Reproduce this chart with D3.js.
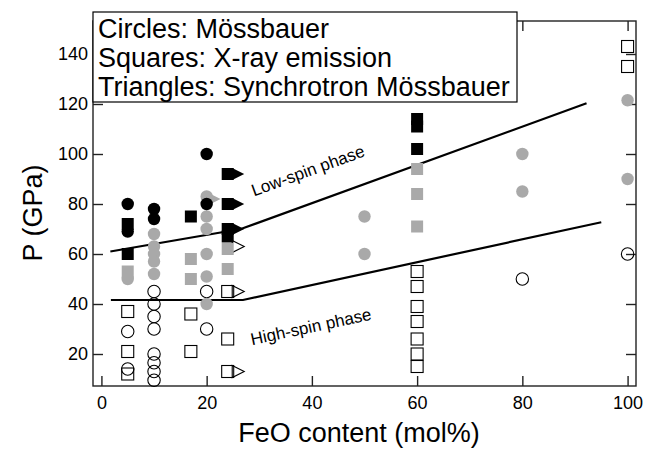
<!DOCTYPE html>
<html><head><meta charset="utf-8">
<script src="https://cdn.jsdelivr.net/npm/d3@7"></script>
<style>
html,body{margin:0;padding:0;background:#fff;}
svg{display:block;font-family:"Liberation Sans",Arial,Helvetica,sans-serif;}
</style></head>
<body>
<svg id="chart" width="648" height="451"></svg>
<script>
// ---- data: [FeO mol%, P GPa] ----
const mossbauerBlack = [[5,80],[5,69],[10,78],[10,74],[20,100],[20,80]];
const mossbauerGray = [[5,50],[10,68],[10,63],[10,60],[10,57],[10,52],[20,83],[20,75],[20,70],[20,60],[20,51],[20,40],[50,75],[50,60],[80,100],[80,85],[100,121.5],[100,90]];
const mossbauerOpen = [[5,29],[5,14],[10,45],[10,40],[10,35],[10,30],[10,20],[10,16.5],[10,13],[10,9.5],[20,45],[20,30],[80,50],[100,60]];
const xesBlack = [[5,72],[5,60],[17,75],[24,92],[24,80],[24,70],[24,67],[60,114],[60,111],[60,102]];
const xesGray = [[5,53],[17,58],[17,50],[24,62],[24,54],[60,94],[60,84],[60,71]];
const xesOpen = [[5,37],[5,21],[5,12],[17,36],[17,21],[24,45],[24,26],[24,13],[60,53],[60,47],[60,39],[60,33],[60,26],[60,20],[60,15],[100,143],[100,135]];
const smsBlack = [[26,92],[26,80],[26,70]];
const smsGray = [[21.5,82]];
const smsOpen = [[26,63],[26,45],[26,13]];
const lowSpinLine = [[1.7,61],[26.5,70],[92.2,120.3]];
const highSpinLine = [[1.8,41.6],[26.9,41.6],[95,72.7]];
const xTicks = [0,20,40,60,80,100];
const yTicks = [20,40,60,80,100,120,140];
const legendLines = ["Circles: Mössbauer","Squares: X-ray emission","Triangles: Synchrotron Mössbauer"];

const svg = d3.select("#chart");
const x = d3.scaleLinear().domain([-1.6,101.6]).range([93,636]);
const y = d3.scaleLinear().domain([7.2,153.2]).range([386,21]);
const BLACK="#000", GRAY="#a9a9a9";

// frame
svg.append("rect").attr("x",x.range()[0]).attr("y",y.range()[1])
  .attr("width",x.range()[1]-x.range()[0]).attr("height",y.range()[0]-y.range()[1])
  .attr("fill","none").attr("stroke","#222").attr("stroke-width",1.4);

function styleAxis(g, labels){
  g.select(".domain").remove();
  g.selectAll(".tick line").attr("stroke","#222").attr("stroke-width",1.4);
  g.selectAll(".tick text").attr("fill","#000").style("font-size","18px")
    .style("font-family","'Liberation Sans',Arial,sans-serif");
  if(!labels) g.selectAll(".tick text").remove();
}
svg.append("g").attr("transform",`translate(0,${y.range()[0]})`)
  .call(d3.axisBottom(x).tickValues(xTicks).tickSizeInner(-10).tickSizeOuter(0).tickPadding(10))
  .call(g=>styleAxis(g,true));
svg.append("g").attr("transform",`translate(0,${y.range()[1]})`)
  .call(d3.axisTop(x).tickValues(xTicks).tickSizeInner(-10).tickSizeOuter(0))
  .call(g=>styleAxis(g,false));
svg.append("g").attr("transform",`translate(${x.range()[0]},0)`)
  .call(d3.axisLeft(y).tickValues(yTicks).tickSizeInner(-10).tickSizeOuter(0).tickPadding(5))
  .call(g=>styleAxis(g,true));
svg.append("g").attr("transform",`translate(${x.range()[1]},0)`)
  .call(d3.axisRight(y).tickValues(yTicks).tickSizeInner(-10).tickSizeOuter(0))
  .call(g=>styleAxis(g,false));

// axis titles
svg.append("text").attr("x",359).attr("y",442).attr("text-anchor","middle")
  .style("font-size","27px").text("FeO content (mol%)");
svg.append("text").attr("transform","translate(42,213) rotate(-90)").attr("text-anchor","middle")
  .style("font-size","27px").text("P (GPa)");

// phase lines
const line = d3.line().x(d=>x(d[0])).y(d=>y(d[1]));
[lowSpinLine, highSpinLine].forEach(l=>{
  svg.append("path").attr("d",line(l)).attr("fill","none").attr("stroke","#000").attr("stroke-width",2.2);
});

// markers
const S=12, R=6.2;
function circles(data, fill){
  svg.append("g").selectAll("circle").data(data).join("circle")
    .attr("cx",d=>x(d[0])).attr("cy",d=>y(d[1])).attr("r",R)
    .attr("fill",fill||"none").attr("stroke",fill?"none":"#000").attr("stroke-width",1.1);
}
function squares(data, fill){
  svg.append("g").selectAll("rect").data(data).join("rect")
    .attr("x",d=>x(d[0])-S/2).attr("y",d=>y(d[1])-S/2).attr("width",S).attr("height",S)
    .attr("fill",fill||"none").attr("stroke",fill?"none":"#000").attr("stroke-width",1.1);
}
function triangles(data, fill){
  svg.append("g").selectAll("path").data(data).join("path")
    .attr("d",d=>{const cx=x(d[0]), cy=y(d[1]);
      return `M${cx-6},${cy-6}L${cx+6},${cy}L${cx-6},${cy+6}Z`;})
    .attr("fill",fill||"none").attr("stroke",fill?"none":"#000").attr("stroke-width",1.1);
}
circles(mossbauerOpen); squares(xesOpen); triangles(smsOpen);
triangles(smsGray, GRAY); circles(mossbauerGray, GRAY); squares(xesGray, GRAY);
triangles(smsBlack, BLACK); squares(xesBlack, BLACK); circles(mossbauerBlack, BLACK);

// phase labels
svg.append("text").attr("transform","translate(308,171) rotate(-20)")
  .attr("text-anchor","middle").attr("dominant-baseline","central").style("font-size","17px").text("Low-spin phase");
svg.append("text").attr("transform","translate(311,327) rotate(-12)")
  .attr("text-anchor","middle").attr("dominant-baseline","central").style("font-size","17px").text("High-spin phase");

// legend
const lg = svg.append("g");
lg.append("rect").attr("x",93).attr("y",12).attr("width",424).attr("height",90)
  .attr("fill","#fff").attr("stroke","#000").attr("stroke-width",1.2);
lg.selectAll("text").data(legendLines).join("text")
  .attr("x",98).attr("y",(d,i)=>38+i*29).style("font-size","27px").text(d=>d);
</script>
</body></html>
